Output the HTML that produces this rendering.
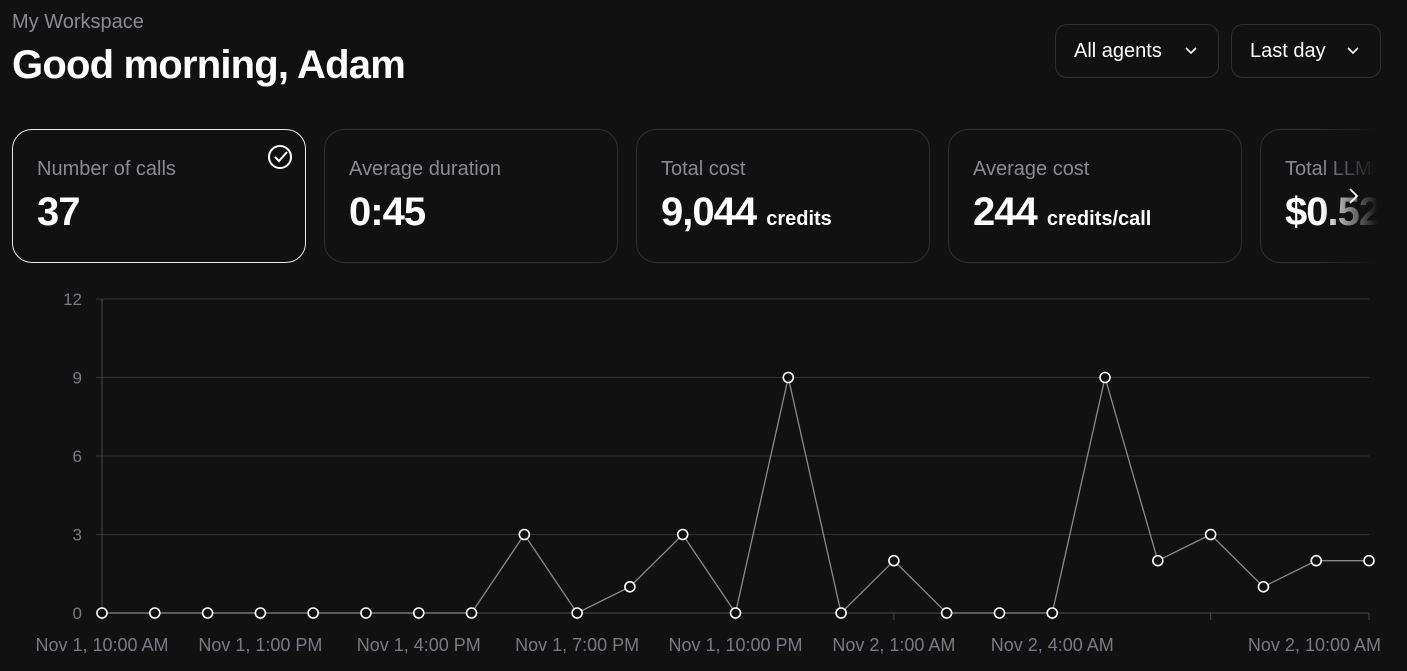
<!DOCTYPE html>
<html><head><meta charset="utf-8"><style>
body{margin:0;width:1407px;height:671px;background:#111112;font-family:"Liberation Sans",sans-serif;color:#fff;overflow:hidden;position:relative}
.abs{position:absolute}
.sub{left:12px;top:11px;font-size:20px;color:#8a8a94}
.title{left:12px;top:43px;font-size:40px;font-weight:bold;letter-spacing:-0.8px}
.dd{top:24px;height:54px;border:1px solid #2e2e32;border-radius:12px;font-size:20px;line-height:52px;padding:0 18px;box-sizing:border-box}
.dd svg{position:absolute;right:20px;top:21px}
.card{top:129px;width:294px;height:134px;border:1px solid #2e2e32;border-radius:20px;box-sizing:border-box}
.card .l{position:absolute;left:24px;top:28px;font-size:20px;color:#8a8a94}
.card .v{position:absolute;left:24px;top:60px;font-size:40px;font-weight:bold;letter-spacing:-1px}
.card .v small{font-size:20px;letter-spacing:0}
</style></head><body>
<div class="abs sub">My Workspace</div>
<div class="abs title">Good morning, Adam</div>
<div class="abs dd" style="left:1055px;width:164px">All agents<svg width="14" height="10"><path d="M2 2l5 5 5-5" fill="none" stroke="#fff" stroke-width="1.6"/></svg></div>
<div class="abs dd" style="left:1231px;width:150px">Last day<svg width="14" height="10"><path d="M2 2l5 5 5-5" fill="none" stroke="#fff" stroke-width="1.6"/></svg></div>
<div class="abs card" style="left:12px;border-color:#e8e8e8"><div class="l">Number of calls</div><div class="v">37</div>
<svg style="position:absolute;left:253px;top:13px" width="28" height="28"><circle cx="14" cy="14" r="11" fill="none" stroke="#fff" stroke-width="2"/><path d="M9 14l4 4 8-9" fill="none" stroke="#fff" stroke-width="2"/></svg></div>
<div class="abs card" style="left:324px"><div class="l">Average duration</div><div class="v">0:45</div></div>
<div class="abs card" style="left:636px"><div class="l">Total cost</div><div class="v">9,044 <small>credits</small></div></div>
<div class="abs card" style="left:948px"><div class="l">Average cost</div><div class="v">244 <small>credits/call</small></div></div>
<div class="abs" style="left:1260px;top:129px;width:132px;height:134px;overflow:hidden">
<div class="abs card" style="left:0;top:0"><div class="l">Total LLM cost</div><div class="v">$0.52</div></div>
<div class="abs" style="left:60px;top:0;width:72px;height:134px;background:linear-gradient(90deg,rgba(17,17,18,0),#111112 80%)"></div>
</div>
<svg class="abs" style="left:1346px;top:187px" width="16" height="18"><path d="M4 2l7 7-7 7" fill="none" stroke="#fff" stroke-width="1.8"/></svg>
<svg class="abs" style="left:0;top:0" width="1407" height="671" id="chart"></svg>
<script>
const categories=["Nov 1, 10:00 AM","","","Nov 1, 1:00 PM","","","Nov 1, 4:00 PM","","","Nov 1, 7:00 PM","","","Nov 1, 10:00 PM","","","Nov 2, 1:00 AM","","","Nov 2, 4:00 AM","","","","","","Nov 2, 10:00 AM"];
const values=[0,0,0,0,0,0,0,0,3,0,1,3,0,9,0,2,0,0,0,9,2,3,1,2,2];
const yTicks=[0,3,6,9,12];
const svg=document.getElementById('chart');const NS='http://www.w3.org/2000/svg';
const x0=102,x1=1369,y0=613,y1=299;
const X=i=>x0+(x1-x0)*i/(values.length-1);
const Y=v=>y0-(y0-y1)*v/12;
function mk(t,a){const e=document.createElementNS(NS,t);for(const k in a)e.setAttribute(k,a[k]);svg.appendChild(e);return e;}
yTicks.forEach(v=>{const g=mk('line',{x1:x0-6,x2:x1,y1:Y(v),y2:Y(v),stroke:v?'#333336':'#4a4a4e','stroke-width':1});


const t=mk('text',{x:x0-20,y:Y(v)+6,'text-anchor':'end',fill:'#7a7a84','font-size':17,'font-family':'Liberation Sans'});t.textContent=v;

});
const ax=mk('line',{x1:x0,x2:x0,y1:y1,y2:y0,stroke:'#4a4a4e'});


categories.forEach((c,i)=>{if(i%3===0){const tk=mk('line',{x1:X(i),x2:X(i),y1:y0,y2:y0+7,stroke:'#4a4a4e'});

}
if(c){const last=i===categories.length-1;const t=mk('text',{x:last?1381:X(i),y:651,'text-anchor':last?'end':'middle',fill:'#7a7a84','font-size':18,'font-family':'Liberation Sans'});t.textContent=c;

}});
const ln=mk('polyline',{points:values.map((v,i)=>X(i)+','+Y(v)).join(' '),fill:'none',stroke:'#8a8a8e','stroke-width':1.3});


values.forEach((v,i)=>{const c=mk('circle',{cx:X(i),cy:Y(v),r:5,fill:'#111112',stroke:'#fff','stroke-width':1.6});

});
</script>
</body></html>
